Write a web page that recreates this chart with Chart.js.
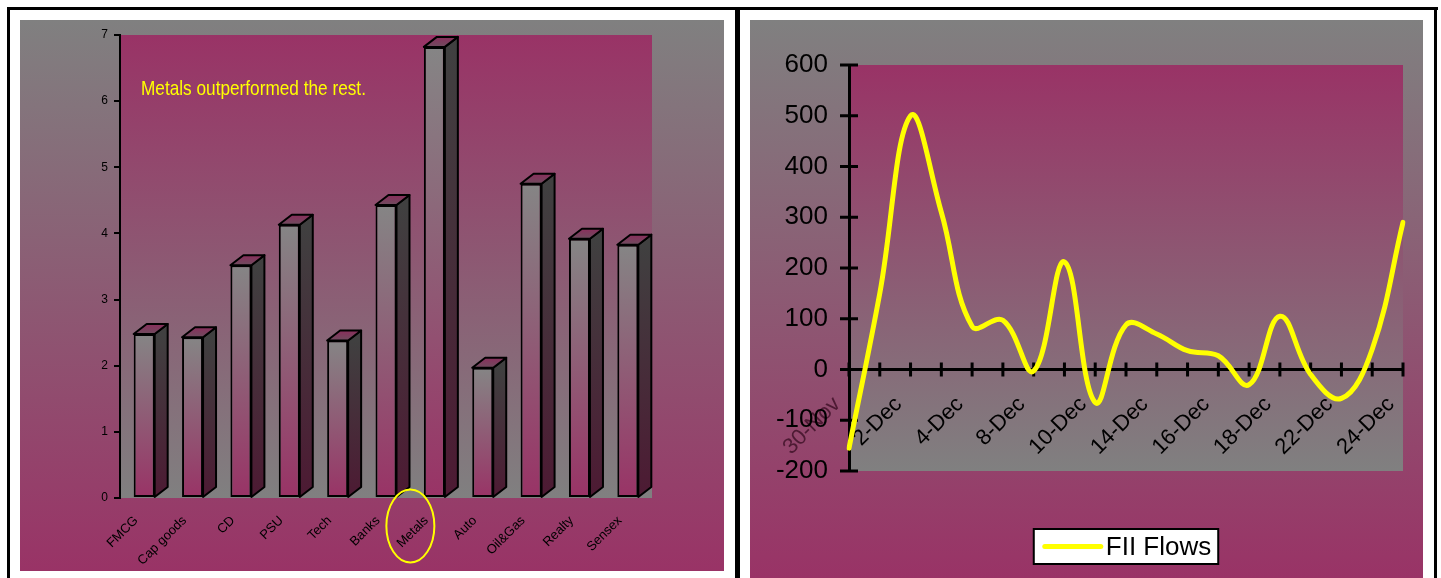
<!DOCTYPE html>
<html><head><meta charset="utf-8">
<script src="https://cdn.jsdelivr.net/npm/chart.js@4.4.1/dist/chart.umd.min.js"></script>
<style>
html,body{margin:0;padding:0;background:#fff;width:1441px;height:578px;overflow:hidden;position:relative;}
.line{position:absolute;background:#000;}
.panel{position:absolute;background:linear-gradient(to bottom,#808080 0%,#993366 100%);}
canvas{display:block;}
</style></head><body>
<div class="line" style="left:7px;top:7px;width:1431px;height:3px"></div>
<div class="line" style="left:7px;top:7px;width:3px;height:571px"></div>
<div class="line" style="left:735px;top:7px;width:5px;height:571px"></div>
<div class="line" style="left:1434px;top:7px;width:3px;height:571px"></div>
<div class="panel" style="left:20px;top:20px;width:704px;height:551px"><canvas id="c1" width="704" height="551"></canvas></div>
<div class="panel" style="left:750px;top:20px;width:673px;height:558px"><canvas id="c2" width="673" height="558"></canvas></div>
<script>
// ---- data ----
const sectors = ['FMCG','Cap goods','CD','PSU','Tech','Banks','Metals','Auto','Oil&Gas','Realty','Sensex'];
const sectorReturns = [2.48,2.43,3.52,4.13,2.38,4.43,6.82,1.97,4.75,3.92,3.83];
const sectorAxisMax = 7;
const highlightSector = 'Metals';
const noteText = 'Metals outperformed the rest.';

const flowDates = ['30-Nov','1-Dec','2-Dec','3-Dec','4-Dec','7-Dec','8-Dec','9-Dec','10-Dec','11-Dec','14-Dec','15-Dec','16-Dec','17-Dec','18-Dec','21-Dec','22-Dec','23-Dec','24-Dec'];
const fiiFlows = [-155,150,500,310,85,97,-3,212,-65,88,70,37,27,-30,105,-10,-57,40,290];
const flowAxisMin = -200, flowAxisMax = 600, flowStep = 100;
const legendLabel = 'FII Flows';

// ---- styles ----
const FONT = '"Liberation Sans", Arial, sans-serif';
const MAG = '#993366', GRAY = '#808080';

const plotBg = {
  id: 'plotBg',
  beforeDraw(chart) {
    const {ctx, chartArea: a} = chart;
    const g = ctx.createLinearGradient(0, a.top, 0, a.bottom);
    g.addColorStop(0, MAG); g.addColorStop(1, GRAY);
    ctx.save(); ctx.fillStyle = g;
    ctx.fillRect(a.left, a.top, a.right - a.left, a.bottom - a.top);
    ctx.restore();
  }
};

const bar3d = {
  id: 'bar3d',
  beforeDatasetsDraw(chart) {
    const ctx = chart.ctx, meta = chart.getDatasetMeta(0);
    const dx = 13, dy = 10;
    ctx.save();
    ctx.lineWidth = 2; ctx.strokeStyle = '#000'; ctx.lineJoin = 'round';
    meta.data.forEach(bar => {
      const {x, y, base, width} = bar.getProps(['x','y','base','width'], true);
      const l = x - width/2, r = x + width/2;
      const gs = ctx.createLinearGradient(0, y, 0, base);
      gs.addColorStop(0, '#404040'); gs.addColorStop(1, '#4d1a33');
      ctx.beginPath();
      ctx.moveTo(r, y); ctx.lineTo(r+dx, y-dy); ctx.lineTo(r+dx, base-dy); ctx.lineTo(r, base); ctx.closePath();
      ctx.fillStyle = gs; ctx.fill(); ctx.stroke();
      const gt = ctx.createLinearGradient(0, y-dy, 0, y);
      gt.addColorStop(0, '#8a2e5c'); gt.addColorStop(1, '#6e4c5e');
      ctx.beginPath();
      ctx.moveTo(l, y); ctx.lineTo(l+dx, y-dy); ctx.lineTo(r+dx, y-dy); ctx.lineTo(r, y); ctx.closePath();
      ctx.fillStyle = gt; ctx.fill(); ctx.stroke();
    });
    ctx.restore();
  }
};

const leftNotes = {
  id: 'leftNotes',
  afterDraw(chart) {
    const {ctx, chartArea: a} = chart;
    const xs = chart.scales.x;
    ctx.save();
    ctx.fillStyle = '#ffff00';
    ctx.font = '21px ' + FONT;
    ctx.textAlign = 'left'; ctx.textBaseline = 'alphabetic';
    ctx.translate(a.left + 21, a.top + 60);
    ctx.scale(0.82, 1);
    ctx.fillText(noteText, 0, 0);
    ctx.restore();
    ctx.save();
    const idx = sectors.indexOf(highlightSector);
    const cx = xs.getPixelForValue(idx) - 24, cy = a.bottom + 28;
    ctx.strokeStyle = '#ffff00'; ctx.lineWidth = 2;
    ctx.beginPath(); ctx.ellipse(cx, cy, 24, 36.5, 0, 0, Math.PI*2); ctx.stroke();
    ctx.restore();
  }
};

new Chart(document.getElementById('c1'), {
  type: 'bar',
  data: {
    labels: sectors,
    datasets: [{
      data: sectorReturns,
      backgroundColor(c) {
        const ch = c.chart;
        if (!ch.chartArea) return GRAY;
        const ys = ch.scales.y;
        const top = ys.getPixelForValue(c.raw), base = ys.getPixelForValue(0);
        const g = ch.ctx.createLinearGradient(0, top, 0, base);
        g.addColorStop(0, '#858585'); g.addColorStop(1, MAG);
        return g;
      },
      borderColor: '#000', borderWidth: 2, borderSkipped: false,
      barPercentage: 0.434, categoryPercentage: 1
    }]
  },
  options: {
    responsive: false, animation: false,
    layout: {padding: {left: 0, top: 15, right: 72, bottom: 0}},
    plugins: {legend: {display: false}, tooltip: {enabled: false}},
    scales: {
      x: {
        grid: {display: false}, border: {display: false},
        ticks: {autoSkip: false, minRotation: 45, maxRotation: 45, padding: 7, labelOffset: -8,
                color: '#000', font: {family: FONT, size: 13}},
        afterFit(s) { s.height = 73; s.paddingLeft = 0; s.paddingRight = 0; }
      },
      y: {
        min: 0, max: sectorAxisMax,
        ticks: {stepSize: 1, padding: 6, color: '#000', font: {family: FONT, size: 12}},
        grid: {display: true, drawOnChartArea: false, drawTicks: true, tickLength: 6, color: '#000', lineWidth: 2},
        border: {display: true, color: '#000', width: 2},
        afterFit(s) { s.width = 100; s.paddingTop = 0; s.paddingBottom = 0; }
      }
    }
  },
  plugins: [plotBg, bar3d, leftNotes]
});

const crossTicks = {
  id: 'crossTicks',
  beforeDatasetsDraw(chart) {
    const {ctx, chartArea: a} = chart;
    const xs = chart.scales.x, ys = chart.scales.y;
    const y0 = ys.getPixelForValue(0);
    ctx.save(); ctx.strokeStyle = '#000'; ctx.lineWidth = 3;
    ctx.beginPath();
    ys.ticks.forEach((t, i) => { const py = ys.getPixelForTick(i); ctx.moveTo(a.left - 9, py); ctx.lineTo(a.left + 9, py); });
    xs.ticks.forEach((t, i) => { const px = xs.getPixelForTick(i); ctx.moveTo(px, y0 - 7); ctx.lineTo(px, y0 + 7); });
    ctx.stroke(); ctx.restore();
  }
};

const boxLegend = {
  id: 'boxLegend',
  afterDraw(chart) {
    const {ctx, chartArea: a} = chart;
    const ds = chart.data.datasets[0];
    ctx.save();
    ctx.font = '26px ' + FONT;
    const tw = ctx.measureText(ds.label).width;
    const w = 9 + 58 + 5 + tw + 7, h = 35;
    const x = (a.left + a.right) / 2 - w / 2, y = 509;
    ctx.fillStyle = '#fff'; ctx.fillRect(x, y, w, h);
    ctx.strokeStyle = '#000'; ctx.lineWidth = 2; ctx.strokeRect(x, y, w, h);
    ctx.strokeStyle = ds.borderColor; ctx.lineWidth = 5; ctx.lineCap = 'round';
    ctx.beginPath(); ctx.moveTo(x + 11, y + h/2); ctx.lineTo(x + 67, y + h/2); ctx.stroke();
    ctx.fillStyle = '#000'; ctx.textAlign = 'left'; ctx.textBaseline = 'middle';
    ctx.fillText(ds.label, x + 72, y + h/2 + 1);
    ctx.restore();
  }
};

new Chart(document.getElementById('c2'), {
  type: 'line',
  data: {
    labels: flowDates,
    datasets: [{
      label: legendLabel, data: fiiFlows,
      borderColor: '#ffff00', borderWidth: 5, pointRadius: 0, tension: 0.4,
      fill: false, borderCapStyle: 'round', borderJoinStyle: 'round'
    }]
  },
  options: {
    responsive: false, animation: false,
    layout: {padding: {left: 0, top: 45, right: 20, bottom: 107}},
    plugins: {legend: {display: false}, tooltip: {enabled: false}},
    scales: {
      x: {
        position: {y: 0}, offset: false,
        grid: {display: false}, border: {display: true, color: '#000', width: 3},
        ticks: {
          autoSkip: false, minRotation: 45, maxRotation: 45, padding: 14, labelOffset: -12,
          font: {family: FONT, size: 22},
          color: (c) => c.index === 0 ? '#4d1a33' : '#000',
          callback(v, i) { return i % 2 === 0 ? this.getLabelForValue(v) : ''; }
        },
        afterFit(s) { s.paddingLeft = 0; s.paddingRight = 0; }
      },
      y: {
        min: flowAxisMin, max: flowAxisMax,
        ticks: {stepSize: flowStep, padding: 13, color: '#000', font: {family: FONT, size: 26}},
        grid: {display: false}, border: {display: true, color: '#000', width: 3},
        afterFit(s) { s.width = 99; s.paddingTop = 0; s.paddingBottom = 0; }
      }
    }
  },
  plugins: [plotBg, crossTicks, boxLegend]
});
</script>
</body></html>
